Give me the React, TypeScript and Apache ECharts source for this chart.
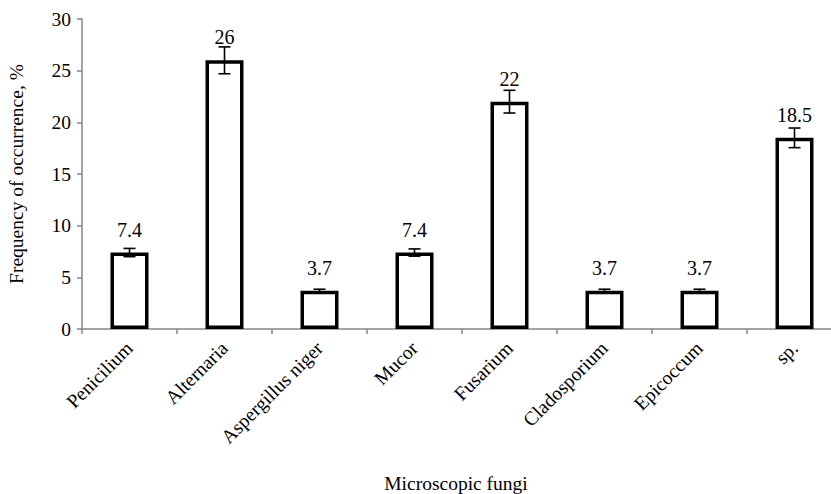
import React, { useEffect, useRef } from "react";
import * as echarts from "echarts";

const categories = [
  "Penicilium",
  "Alternaria",
  "Aspergillus niger",
  "Mucor",
  "Fusarium",
  "Cladosporium",
  "Epicoccum",
  "sp.",
];
const frequency = [7.4, 26, 3.7, 7.4, 22, 3.7, 3.7, 18.5];
const errors = [0.4, 1.3, 0.15, 0.35, 1.1, 0.15, 0.15, 0.95];
const yTitle = "Frequency of occurrence, %";
const xTitle = "Microscopic fungi";

const FONT = "Liberation Serif";
const AXIS_GRAY = "#868686";

export default function App() {
  const ref = useRef<HTMLDivElement>(null);

  useEffect(() => {
    document.body.style.margin = "0";
    if (!ref.current) return;
    const chart = echarts.init(ref.current, undefined, { renderer: "svg" });

    const errData = frequency.map((v, i) => [i, v - errors[i], v + errors[i]]);

    chart.setOption({
      animation: false,
      backgroundColor: "#ffffff",
      grid: {
        left: 82,
        top: 19,
        width: 760,
        height: 310,
        containLabel: false,
        outerBoundsMode: "none",
      },
      xAxis: {
        type: "category",
        data: categories,
        axisLine: { show: true, lineStyle: { color: AXIS_GRAY, width: 1.5 } },
        axisTick: { show: true, length: 5, lineStyle: { color: AXIS_GRAY, width: 1.5 } },
        axisLabel: {
          rotate: 45,
          fontFamily: FONT,
          fontSize: 19.5,
          color: "#000",
          margin: 16,
          interval: 0,
        },
        splitLine: { show: false },
      },
      yAxis: {
        type: "value",
        min: 0,
        max: 30,
        interval: 5,
        name: yTitle,
        nameLocation: "middle",
        nameGap: 56,
        nameTextStyle: { fontFamily: FONT, fontSize: 19.5, color: "#000" },
        axisLine: { show: true, lineStyle: { color: AXIS_GRAY, width: 1.5 } },
        axisTick: { show: true, length: 5, lineStyle: { color: AXIS_GRAY, width: 1.5 } },
        axisLabel: { fontFamily: FONT, fontSize: 19.5, color: "#000", margin: 11 },
        splitLine: { show: false },
      },
      graphic: [
        {
          type: "text",
          x: 456,
          y: 483,
          style: {
            text: xTitle,
            fontFamily: FONT,
            fontSize: 19.5,
            fill: "#000",
            textAlign: "center",
            textVerticalAlign: "middle",
          },
        },
      ],
      series: [
        {
          type: "bar",
          data: frequency,
          barWidth: 38,
          itemStyle: { color: "#ffffff", borderColor: "#000", borderWidth: 3.5 },
          label: {
            show: true,
            position: "top",
            distance: 13,
            fontFamily: FONT,
            fontSize: 20,
            color: "#000",
          },
          z: 2,
        },
        {
          type: "custom",
          data: errData,
          z: 3,
          renderItem: (params: any, api: any) => {
            const x = api.value(0);
            const lo = api.coord([x, api.value(1)]);
            const hi = api.coord([x, api.value(2)]);
            const half = 6;
            const style = { stroke: "#000", lineWidth: 1.6 };
            return {
              type: "group",
              children: [
                { type: "line", shape: { x1: lo[0], y1: lo[1], x2: hi[0], y2: hi[1] }, style },
                { type: "line", shape: { x1: hi[0] - half, y1: hi[1], x2: hi[0] + half, y2: hi[1] }, style },
                { type: "line", shape: { x1: lo[0] - half, y1: lo[1], x2: lo[0] + half, y2: lo[1] }, style },
              ],
            };
          },
        },
      ],
    });

    return () => {
      chart.dispose();
    };
  }, []);

  return <div ref={ref} style={{ width: 831, height: 494 }} />;
}
